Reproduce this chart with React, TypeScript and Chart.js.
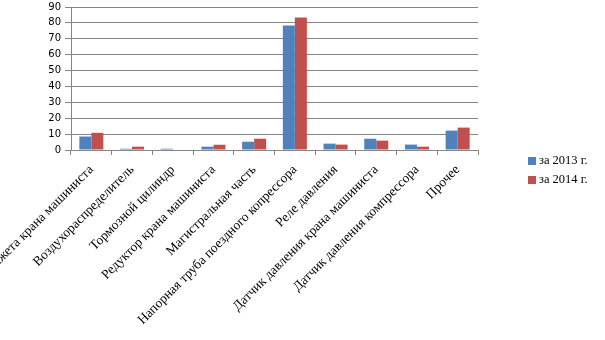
import React, { useEffect, useRef } from "react";
import { Chart, registerables } from "chart.js";

Chart.register(...registerables);

const categories = [
  "Манжета крана машиниста",
  "Воздухораспределитель",
  "Тормозной цилиндр",
  "Редуктор крана машиниста",
  "Магистральная часть",
  "Напорная труба поездного копрессора",
  "Реле давления",
  "Датчик давления крана машиниста",
  "Датчик давления компрессора",
  "Прочее",
];

const values2013 = [8.5, 0.8, 0.8, 2.1, 5.2, 78.3, 4.0, 7.1, 3.4, 12.2];
const values2014 = [10.8, 2.1, 0, 3.3, 7.1, 83.4, 3.4, 5.9, 2.1, 14.1];

const seriesLabels = ["за 2013 г.", "за 2014 г."];
const seriesColors = ["#4F81BD", "#C0504D"];

const yMin = 0;
const yMax = 90;
const yStep = 10;

const GRID = "#868686";

export default function App() {
  const ref = useRef<HTMLCanvasElement | null>(null);

  useEffect(() => {
    if (!ref.current) return;
    const chart = new Chart(ref.current, {
      type: "bar",
      data: {
        labels: categories,
        datasets: [
          {
            label: seriesLabels[0],
            data: values2013,
            backgroundColor: seriesColors[0],
            borderWidth: 0,
          },
          {
            label: seriesLabels[1],
            data: values2014,
            backgroundColor: seriesColors[1],
            borderWidth: 0,
          },
        ],
      },
      options: {
        animation: false,
        responsive: false,
        devicePixelRatio: 1,
        layout: { padding: { top: 7, right: 127, bottom: 0, left: 0 } },
        datasets: {
          bar: { categoryPercentage: 0.59, barPercentage: 1 },
        },
        plugins: {
          legend: { display: false },
          tooltip: { enabled: false },
        },
        scales: {
          x: {
            offset: true,
            grid: {
              display: true,
              drawOnChartArea: false,
              drawTicks: true,
              tickLength: 5,
              color: GRID,
              offset: true,
            },
            border: { color: GRID, width: 1 },
            ticks: {
              autoSkip: false,
              maxRotation: 45,
              minRotation: 45,
              padding: 7,
              color: "#000",
              font: { family: "'Liberation Serif', serif", size: 13.4 },
            },
            afterFit: (s: any) => {
              s.height = 190;
              s.paddingLeft = 0;
              s.paddingRight = 0;
            },
          },
          y: {
            min: yMin,
            max: yMax,
            grid: {
              color: GRID,
              tickLength: 6,
              drawTicks: true,
            },
            border: { color: GRID, width: 1 },
            ticks: {
              stepSize: yStep,
              padding: 4,
              color: "#000",
              font: { family: "'DejaVu Sans', sans-serif", size: 10 },
            },
            afterFit: (s: any) => {
              s.width = 71;
              s.paddingTop = 0;
              s.paddingBottom = 0;
            },
          },
        },
      },
    });
    return () => chart.destroy();
  }, []);

  const legendItem = (i: number, top: number) => (
    <div
      key={i}
      style={{
        position: "absolute",
        left: 528,
        top,
        height: 19,
        display: "flex",
        alignItems: "center",
        fontFamily: "'Liberation Serif', serif",
        fontSize: 12.5,
        color: "#000",
        whiteSpace: "nowrap",
      }}
    >
      <span
        style={{
          display: "inline-block",
          width: 8,
          height: 8,
          background: seriesColors[i],
          marginRight: 3,
        }}
      />
      <span>{seriesLabels[i]}</span>
    </div>
  );

  return (
    <div
      style={{
        position: "fixed",
        left: 0,
        top: 0,
        width: 605,
        height: 340,
        background: "#fff",
        overflow: "hidden",
      }}
    >
      <canvas ref={ref} width={605} height={340} style={{ display: "block" }} />
      {legendItem(0, 151)}
      {legendItem(1, 170)}
    </div>
  );
}
